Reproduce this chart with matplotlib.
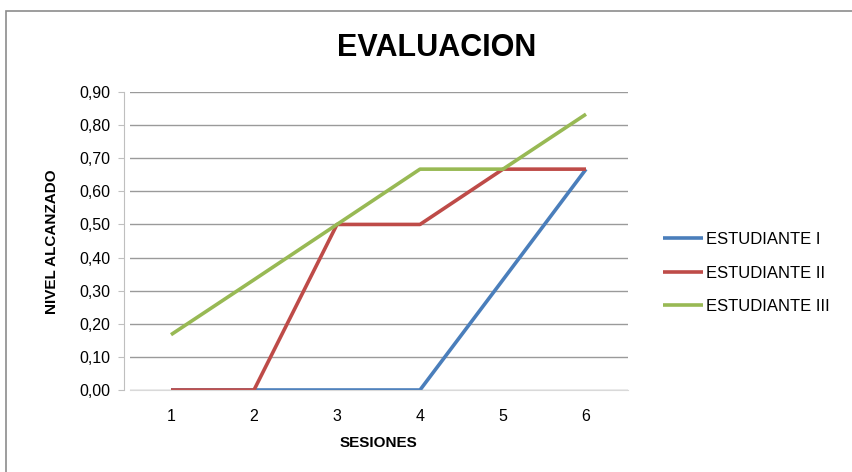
import matplotlib
matplotlib.use("Agg")
import matplotlib.pyplot as plt
from matplotlib.patches import Rectangle
from matplotlib.ticker import FuncFormatter

plt.rcParams['font.family'] = ['Liberation Sans Narrow', 'Liberation Sans', 'DejaVu Sans']

sesiones = [1, 2, 3, 4, 5, 6]
estudiante_1 = [0.0, 0.0, 0.0, 0.0, 0.333, 0.667]
estudiante_2 = [0.0, 0.0, 0.5, 0.5, 0.667, 0.667]
estudiante_3 = [0.167, 0.333, 0.5, 0.667, 0.667, 0.833]
series_names = ["ESTUDIANTE I", "ESTUDIANTE II", "ESTUDIANTE III"]
colors = ["#4a7ebb", "#be4b48", "#98b954"]
yticks = [0.0, 0.1, 0.2, 0.3, 0.4, 0.5, 0.6, 0.7, 0.8, 0.9]

fig = plt.figure(figsize=(8.52, 4.72), dpi=100)
W, H = 852, 472

# chart frame
fig.patches.append(Rectangle((6 / W, -0.05), 1.2, 1.05 - 11 / H, transform=fig.transFigure,
                             fill=False, edgecolor="#8c8c8c", linewidth=1.2))

ax = fig.add_axes([129.5 / W, 1 - 390 / H, (627.5 - 129.5) / W, (390 - 92) / H])
for vals, name, c in zip([estudiante_1, estudiante_2, estudiante_3], series_names, colors):
    ax.plot(sesiones, vals, color=c, linewidth=2.6, label=name, solid_capstyle="butt")

ax.set_xlim(0.5, 6.5)
ax.set_ylim(0, 0.9)
ax.set_yticks(yticks)
ax.yaxis.set_major_formatter(FuncFormatter(lambda v, p: f"{v:.2f}".replace(".", ",")))
ax.set_xticks(sesiones)
ax.grid(axis="y", color="#9a9a9a", linewidth=1.0)
ax.set_axisbelow(True)
for s in ["top", "right"]:
    ax.spines[s].set_visible(False)
ax.spines["left"].set_color("#bfbfbf")
ax.spines["bottom"].set_color("#d9d9d9")
ax.spines["left"].set_position(("outward", 4))
ax.tick_params(axis="y", length=4, color="#bfbfbf", labelsize=11.5, pad=6)
ax.tick_params(axis="x", length=0, labelsize=11.5, pad=14)

fig.text(437 / W, 1 - 48 / H, "EVALUACION", ha="center", va="center",
         fontsize=22, fontweight="bold")
fig.text(378 / W, 1 - 443 / H, "SESIONES", ha="center", va="center",
         fontsize=11, fontweight="bold")
fig.text(52 / W, 1 - 242 / H, "NIVEL ALCANZADO", ha="center", va="center",
         fontsize=11, fontweight="bold", rotation=90)

leg = fig.legend(loc="center left", bbox_to_anchor=(648 / W, 1 - 273 / H), frameon=False,
                 fontsize=12, handlelength=2.4, handletextpad=0.15, labelspacing=1.1)

fig.savefig("out.png", dpi=100)
